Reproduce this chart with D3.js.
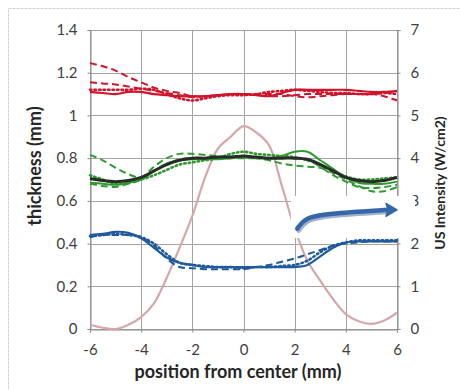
<!DOCTYPE html>
<html><head><meta charset="utf-8">
<script src="https://cdn.jsdelivr.net/npm/d3@7"></script>
<style>body{margin:0;background:#fff} svg{display:block;font-family:Lato,"Open Sans",sans-serif}</style>
</head><body>
<svg id="c" width="460" height="390"></svg>
<script>
// ---- data ----
const positions = [-6,-5.5,-5,-4.5,-4,-3.5,-3,-2.5,-2,-1.5,-1,-0.5,0,0.5,1,1.5,2,2.5,3,3.5,4,4.5,5,5.5,6];
const xTicks = [-6,-4,-2,0,2,4,6];
const xTickLabels = ["-6","-4","-2","0","2","4","6"];
const thicknessTicks = [0,0.2,0.4,0.6,0.8,1,1.2,1.4];
const thicknessTickLabels = ["0","0.2","0.4","0.6","0.8","1","1.2","1.4"];
const intensityTicks = [0,1,2,3,4,5,6,7];
const intensityTickLabels = ["0","1","2","3","4","5","6","7"];

const redSolid   = [1.11,1.105,1.10,1.11,1.11,1.10,1.095,1.09,1.09,1.09,1.095,1.10,1.10,1.095,1.09,1.105,1.12,1.12,1.12,1.12,1.12,1.115,1.11,1.11,1.115];
const redDashA   = [1.245,1.23,1.21,1.18,1.155,1.13,1.115,1.105,1.09,1.09,1.095,1.10,1.10,1.095,1.09,1.09,1.095,1.10,1.10,1.10,1.10,1.10,1.10,1.09,1.07];
const redDashB   = [1.155,1.15,1.145,1.135,1.125,1.115,1.105,1.095,1.085,1.09,1.095,1.10,1.10,1.10,1.10,1.10,1.09,1.085,1.09,1.095,1.10,1.10,1.10,1.105,1.11];
const redDot     = [1.12,1.12,1.12,1.12,1.125,1.12,1.10,1.08,1.07,1.08,1.09,1.095,1.095,1.10,1.11,1.115,1.12,1.115,1.11,1.105,1.105,1.10,1.10,1.105,1.10];

const blackSolid = [0.705,0.695,0.69,0.695,0.71,0.74,0.77,0.79,0.80,0.80,0.805,0.805,0.81,0.805,0.80,0.80,0.80,0.795,0.77,0.74,0.71,0.695,0.69,0.695,0.71];
const greenSolid = [0.685,0.68,0.675,0.685,0.70,0.74,0.775,0.79,0.795,0.795,0.795,0.80,0.805,0.80,0.80,0.81,0.83,0.83,0.79,0.75,0.71,0.685,0.68,0.68,0.69];
const greenDashA = [0.815,0.79,0.755,0.725,0.71,0.76,0.80,0.82,0.82,0.815,0.81,0.805,0.805,0.80,0.79,0.775,0.765,0.76,0.755,0.73,0.70,0.67,0.645,0.645,0.665];
const greenDashB = [0.68,0.67,0.665,0.68,0.70,0.74,0.77,0.795,0.80,0.80,0.80,0.80,0.80,0.80,0.80,0.80,0.80,0.79,0.76,0.72,0.69,0.665,0.66,0.665,0.675];
const greenDot   = [0.72,0.70,0.68,0.685,0.70,0.72,0.745,0.77,0.78,0.79,0.80,0.82,0.83,0.82,0.815,0.81,0.805,0.79,0.77,0.74,0.715,0.70,0.70,0.705,0.71];

const blueSolid  = [0.44,0.445,0.455,0.45,0.425,0.38,0.335,0.31,0.30,0.29,0.29,0.29,0.29,0.29,0.29,0.29,0.29,0.30,0.34,0.38,0.405,0.41,0.41,0.41,0.41];
const blueDash   = [0.43,0.44,0.44,0.44,0.43,0.39,0.33,0.29,0.285,0.28,0.28,0.28,0.28,0.29,0.30,0.315,0.33,0.35,0.37,0.39,0.40,0.405,0.41,0.41,0.41];
const blueDot    = [0.435,0.44,0.445,0.44,0.43,0.40,0.35,0.31,0.30,0.295,0.29,0.29,0.285,0.29,0.29,0.295,0.30,0.32,0.36,0.39,0.405,0.415,0.415,0.415,0.415];

const intensity  = [0.1,0.03,0.0,0.1,0.28,0.6,1.2,1.9,2.65,3.55,4.22,4.5,4.75,4.6,4.3,3.35,2.35,1.6,1.13,0.7,0.35,0.18,0.12,0.2,0.38];

// arrow annotation (data coords: position, thickness)
const arrowPts = [[2.1,0.47],[2.4,0.52],[3.2,0.54],[6.0,0.558]];

// ---- layout ----
const svg = d3.select("#c");
const x = d3.scaleLinear([-6,6],[90,397]);
const yL = d3.scaleLinear([0,1.4],[329,30]);
const yR = d3.scaleLinear([0,7],[329,30]);

// outer frame
svg.append("rect").attr("x",8.5).attr("y",8.5).attr("width",470).attr("height",400)
  .attr("fill","none").attr("stroke","#cfcfcf").attr("stroke-dasharray","3,1");

// grid
const grid = svg.append("g").attr("stroke","#a4a4a4").attr("stroke-width",1);
grid.selectAll("line.h").data(thicknessTicks).join("line")
  .attr("x1",x(-6)).attr("x2",x(6)).attr("y1",d=>Math.round(yL(d))+0.5).attr("y2",d=>Math.round(yL(d))+0.5);
grid.selectAll("line.v").data(xTicks).join("line")
  .attr("y1",yL(0)).attr("y2",yL(1.4)).attr("x1",d=>Math.round(x(d))+0.5).attr("x2",d=>Math.round(x(d))+0.5);

// axes
const axL = svg.append("g").attr("transform",`translate(${Math.round(x(-6))+0.5},0)`)
  .call(d3.axisLeft(yL).tickValues(thicknessTicks).tickFormat((d,i)=>thicknessTickLabels[i]).tickSize(3).tickPadding(10));
const axR = svg.append("g").attr("transform",`translate(${Math.round(x(6))+0.5},0)`)
  .call(d3.axisRight(yR).tickValues(intensityTicks).tickFormat((d,i)=>intensityTickLabels[i]).tickSize(3).tickPadding(10));
const axB = svg.append("g").attr("transform",`translate(0,${Math.round(yL(0))+0.5})`)
  .call(d3.axisBottom(x).tickValues(xTicks).tickFormat((d,i)=>xTickLabels[i]).tickSize(3).tickPadding(12));
[axL,axR,axB].forEach(a=>{
  a.selectAll("path,line").attr("stroke","#8a8a8a");
  a.selectAll("text").attr("font-size",15).attr("fill","#404040").attr("font-family","Lato");
});

// series
const line = (ys, yScale) => d3.line().x((d,i)=>x(positions[i])).y(d=>yScale(d)).curve(d3.curveCatmullRom.alpha(0.5))(ys);
svg.append("path").attr("d",line(intensity,yR)).attr("fill","none").attr("stroke","#d6a6ad").attr("stroke-width",2.2);

const styles = [
  {v:redDashA,c:"#d0142c",w:2,dash:"7,4"},
  {v:redDashB,c:"#d0142c",w:2,dash:"7,4"},
  {v:redDot,c:"#d0142c",w:2.6,dash:"1.5,3"},
  {v:redSolid,c:"#d0142c",w:2.2,dash:null},
  {v:greenDashA,c:"#2e9b2e",w:2,dash:"7,4"},
  {v:greenDashB,c:"#2e9b2e",w:2,dash:"7,4"},
  {v:greenDot,c:"#2e9b2e",w:2.6,dash:"1.5,3"},
  {v:greenSolid,c:"#2e9b2e",w:2,dash:null},
  {v:blackSolid,c:"#2a2a2a",w:3,dash:null},
  {v:blueDash,c:"#1f5a9c",w:2,dash:"7,4"},
  {v:blueDot,c:"#1f5a9c",w:2.6,dash:"1.5,3"},
  {v:blueSolid,c:"#1f5a9c",w:2.2,dash:null}
];
styles.forEach(s=>{
  svg.append("path").attr("d",line(s.v,yL)).attr("fill","none").attr("stroke",s.c)
    .attr("stroke-width",s.w).attr("stroke-dasharray",s.dash).attr("stroke-linecap",s.dash&&s.dash.startsWith("1.5")?"round":"butt");
});

// annotation box + arrow
svg.append("rect").attr("x",x(1.85)).attr("y",196).attr("width",415-x(1.85)).attr("height",42).attr("fill","#fff");
const aLine = d3.line().x(d=>x(d[0])).y(d=>yL(d[1])).curve(d3.curveBasis);
const pts = arrowPts.slice(); const tip = pts[pts.length-1];
const bodyPts = pts.slice(0,-1).concat([[tip[0]-0.35,tip[1]]]);
svg.append("path").attr("d",aLine(bodyPts)).attr("transform","translate(1.5,2)").attr("fill","none")
  .attr("stroke","#9fb3cc").attr("stroke-width",4.5).attr("stroke-linecap","round");
svg.append("path").attr("d",aLine(bodyPts)).attr("fill","none").attr("stroke","#3767a8").attr("stroke-width",4.5).attr("stroke-linecap","round");
const tx = x(tip[0]), ty = yL(tip[1]);
svg.append("path").attr("d",`M${tx},${ty} L${tx-11},${ty-6.5} L${tx-9},${ty} L${tx-11},${ty+6.5} Z`)
  .attr("fill","#3767a8").attr("stroke","#3767a8").attr("stroke-width",1.5).attr("stroke-linejoin","round");

// axis titles
svg.append("text").attr("transform","translate(41,166) rotate(-90)").attr("text-anchor","middle")
  .attr("font-size",18).attr("font-weight","bold").attr("fill","#262626").text("thickness (mm)");
svg.append("text").attr("transform","translate(445,183) rotate(-90)").attr("text-anchor","middle")
  .attr("font-size",14).attr("font-weight","bold").attr("fill","#262626").text("US Intensity (W/cm2)");
svg.append("text").attr("x",238).attr("y",378).attr("text-anchor","middle")
  .attr("font-size",18).attr("font-weight","bold").attr("fill","#262626").text("position from center (mm)");
</script>
</body></html>
